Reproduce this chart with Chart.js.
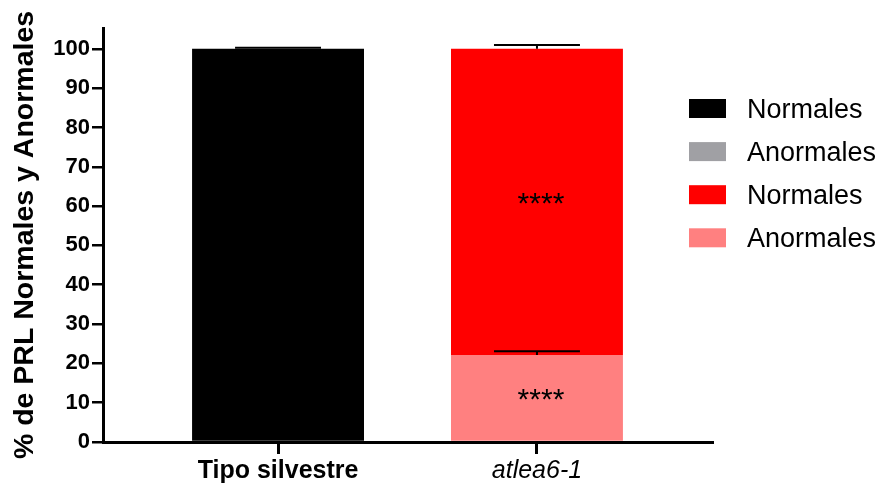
<!DOCTYPE html>
<html>
<head>
<meta charset="utf-8">
<script src="https://cdn.jsdelivr.net/npm/chart.js@4/dist/chart.umd.min.js"></script>
<style>
  html, body { margin: 0; padding: 0; background: #fff; }
  #wrap { width: 880px; height: 485px; }
</style>
</head>
<body>
<div id="wrap"><canvas id="c" width="880" height="485"></canvas></div>
<script>
// Categories along the x axis
const categories = ['Tipo silvestre', 'atlea6-1'];

// Percent of primary lateral roots per genotype (stacked, bottom to top)
const wtNormales = [100, null];
const wtAnormales = [0, null];
const mutAnormales = [null, 22.1];
const mutNormales = [null, 77.9];

// Standard error for each stacked segment (drawn upward only)
const wtNormalesErr = [0.3, null];
const mutAnormalesErr = [null, 1.0];
const mutNormalesErr = [null, 1.0];

// Significance marks per segment
const mutAnormalesSig = ['', '****'];
const mutNormalesSig = ['', '****'];

// Y axis tick values
const yTicks = [0, 10, 20, 30, 40, 50, 60, 70, 80, 90, 100];

const FONT = "'Liberation Sans', Arial, Helvetica, sans-serif";
Chart.defaults.font.family = FONT;
Chart.defaults.color = '#000';

const toXY = arr => arr.map((v, i) => ({ x: i, y: v }));

const datasets = [
  { label: 'Normales', data: toXY(wtNormales), backgroundColor: '#000000', errors: wtNormalesErr },
  { label: 'Anormales', data: toXY(wtAnormales), backgroundColor: '#a0a0a4' },
  { label: 'Anormales', data: toXY(mutAnormales), backgroundColor: '#ff8080', errors: mutAnormalesErr, sig: mutAnormalesSig },
  { label: 'Normales', data: toXY(mutNormales), backgroundColor: '#ff0000', errors: mutNormalesErr, sig: mutNormalesSig }
];
// Legend lists the genotype groups in this order
const legendOrder = [0, 1, 3, 2];

const errorBars = {
  id: 'errorBars',
  afterDatasetsDraw(chart) {
    const ctx = chart.ctx;
    const y = chart.scales.y;
    ctx.save();
    chart.data.datasets.forEach((ds, di) => {
      const meta = chart.getDatasetMeta(di);
      meta.data.forEach((el, i) => {
        const v = ds.data[i].y;
        if (v === null || v === undefined) return;
        if (ds.errors && ds.errors[i] != null) {
          const topVal = y.getValueForPixel(el.y);
          const yErr = y.getPixelForValue(topVal + ds.errors[i]);
          const half = el.width * 0.25;
          ctx.strokeStyle = '#000';
          ctx.lineWidth = 2;
          ctx.beginPath();
          ctx.moveTo(el.x, el.y);
          ctx.lineTo(el.x, yErr);
          ctx.moveTo(el.x - half, yErr);
          ctx.lineTo(el.x + half, yErr);
          ctx.stroke();
        }
        if (ds.sig && ds.sig[i]) {
          ctx.fillStyle = '#000';
          ctx.font = '30px ' + FONT;
          ctx.textAlign = 'center';
          ctx.textBaseline = 'middle';
          ctx.fillText(ds.sig[i], el.x + 4, (el.y + el.base) / 2 + 3);
        }
      });
    });
    ctx.restore();
  }
};

const sideLegend = {
  id: 'sideLegend',
  afterDraw(chart) {
    const ctx = chart.ctx;
    const x0 = chart.chartArea.right - 23;
    const top0 = 99;
    ctx.save();
    ctx.font = '27px ' + FONT;
    ctx.textAlign = 'left';
    ctx.textBaseline = 'alphabetic';
    legendOrder.forEach((di, k) => {
      const ds = chart.data.datasets[di];
      const yb = top0 + k * 43.1;
      ctx.fillStyle = ds.backgroundColor;
      ctx.fillRect(x0, yb, 37, 19);
      ctx.fillStyle = '#000';
      ctx.fillText(ds.label, x0 + 58, yb + 19);
    });
    ctx.restore();
  }
};

new Chart(document.getElementById('c'), {
  type: 'bar',
  data: { datasets },
  options: {
    responsive: false,
    animation: false,
    layout: { padding: { top: 28, right: 168, bottom: 0, left: 0 } },
    datasets: { bar: { categoryPercentage: 1, barPercentage: 0.664, borderWidth: 0 } },
    plugins: { legend: { display: false }, tooltip: { enabled: false } },
    scales: {
      x: {
        type: 'linear',
        stacked: true,
        offset: false,
        min: -0.676,
        max: 1.676,
        afterBuildTicks: s => { s.ticks = categories.map((c, i) => ({ value: i })); },
        afterFit: s => { s.height = 43; },
        grid: { offset: false, drawOnChartArea: false, color: '#000', lineWidth: 3, tickLength: 12 },
        border: { display: true, color: '#000', width: 3 },
        ticks: {
          autoSkip: false,
          maxRotation: 0,
          padding: 2,
          color: '#000',
          callback: (v, i) => categories[i],
          font: c => (c.index === 0
            ? { size: 25, weight: 'bold', style: 'normal', family: FONT }
            : { size: 25, weight: 'normal', style: 'italic', family: FONT })
        }
      },
      y: {
        stacked: true,
        min: 0,
        max: 105.3,
        afterBuildTicks: s => { s.ticks = yTicks.map(v => ({ value: v })); },
        afterFit: s => { s.width = 103; },
        grid: { drawOnChartArea: false, color: '#000', lineWidth: 2.5, tickLength: 11 },
        border: { display: true, color: '#000', width: 3 },
        ticks: { padding: 2, color: '#000', font: { size: 22, weight: 'bold' } },
        title: {
          display: true,
          text: '% de PRL Normales y Anormales',
          color: '#000',
          font: { size: 28.5, weight: 'bold' },
          padding: { top: 8, bottom: 0 }
        }
      }
    }
  },
  plugins: [errorBars, sideLegend]
});
</script>
</body>
</html>
